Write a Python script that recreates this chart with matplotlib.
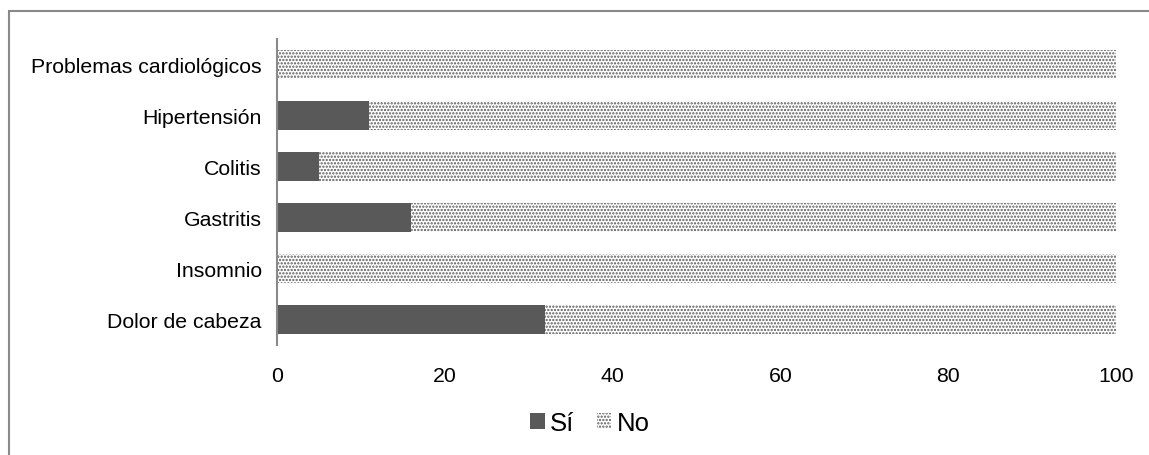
import matplotlib.pyplot as plt
from matplotlib.patches import Rectangle

categorias = ['Dolor de cabeza', 'Insomnio', 'Gastritis', 'Colitis',
              'Hipertensión', 'Problemas cardiológicos']
si = [32, 0, 16, 5, 11, 0]
no = [68, 100, 84, 95, 89, 100]
xticks = [0, 20, 40, 60, 80, 100]

plt.rcParams['font.family'] = ['Liberation Sans', 'DejaVu Sans']
plt.rcParams['hatch.color'] = '#595959'
plt.rcParams['hatch.linewidth'] = 1.1

fig = plt.figure(figsize=(11.49, 4.56), dpi=100)
ax = fig.add_axes([277 / 1149, 1 - 346 / 456, (1116 - 277) / 1149, 306 / 456])

ypos = range(len(categorias))
ax.barh(ypos, si, height=0.57, color='#595959', linewidth=0, label='Sí')
ax.barh(ypos, no, left=si, height=0.57, color='white', edgecolor='#595959',
        hatch='.....', linewidth=0, label='No')

ax.set_xlim(0, 100)
ax.set_ylim(-0.5, len(categorias) - 0.5)
ax.set_xticks(xticks)
ax.set_yticks(list(ypos))
ax.set_yticklabels(categorias)
ax.tick_params(axis='both', length=0, labelsize=15.3, colors='black')
ax.tick_params(axis='x', pad=15)
ax.tick_params(axis='y', pad=11)
for s in ['top', 'right', 'bottom']:
    ax.spines[s].set_visible(False)
ax.spines['left'].set_color('#898989')
ax.spines['left'].set_linewidth(1.5)

leg = fig.legend(loc='center', bbox_to_anchor=(590 / 1149, 1 - 424 / 456), ncol=2,
                 frameon=False, fontsize=18.5, handlelength=0.55, handleheight=0.55,
                 handletextpad=0.2, columnspacing=0.9)

# marco exterior del grafico
fig.patches.append(Rectangle((8.5 / 1149, -0.1), 1.2, 1 - 11.5 / 456 + 0.1,
                             transform=fig.transFigure, fill=False,
                             edgecolor='#898989', linewidth=1.5))

fig.savefig('out.png', dpi=100)
